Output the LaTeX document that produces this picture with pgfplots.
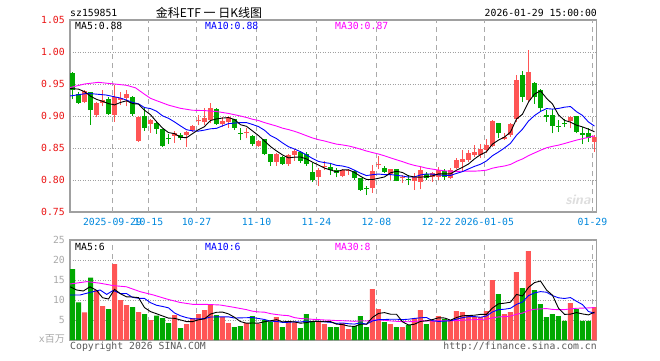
\documentclass[border=0pt]{standalone}
\usepackage{pgfplots}
\pgfplotsset{compat=1.18}
\usepackage{pgfplotstable}
\usepackage{fontspec}
\setmainfont{DejaVu Sans Mono}
\setmonofont{DejaVu Sans Mono}
\newfontfamily\cjk{Noto Sans CJK SC}
\definecolor{cred}{RGB}{255,85,85}
\definecolor{cgreen}{RGB}{0,168,0}
\definecolor{cgrid}{RGB}{170,170,170}
\definecolor{cdot}{RGB}{160,160,160}
\definecolor{cframe}{RGB}{160,160,160}
\definecolor{cdate}{RGB}{0,136,221}
\definecolor{cma10}{RGB}{0,0,255}
\definecolor{cma30}{RGB}{255,0,255}
\definecolor{ctick}{RGB}{235,20,20}
\definecolor{cvtick}{RGB}{170,170,170}
\definecolor{cfoot}{RGB}{90,90,90}
\newcommand\mono{\fontsize{9.8}{10}\selectfont}

\pgfplotstableread{
i o c h l v
2 0.922 0.939 0.941 0.920 6.9
4 0.902 0.921 0.922 0.898 12.5
5 0.920 0.925 0.940 0.915 8.5
7 0.902 0.929 0.948 0.891 19.0
8 0.925 0.928 0.938 0.917 10.0
9 0.928 0.934 0.941 0.915 8.75
11 0.861 0.899 0.900 0.860 7.0
13 0.8875 0.893 0.896 0.874 5.0
17 0.869 0.873 0.877 0.858 6.25
19 0.870 0.8755 0.877 0.852 4.0
20 0.878 0.885 0.886 0.8755 5.5
21 0.8925 0.8945 0.9015 0.886 6.5
22 0.890 0.897 0.912 0.886 7.5
23 0.893 0.913 0.920 0.8885 8.9
25 0.8875 0.892 0.899 0.883 5.75
26 0.891 0.898 0.900 0.881 4.25
29 0.873 0.875 0.881 0.865 4.25
31 0.8535 0.8615 0.8625 0.852 4.1
34 0.8285 0.8405 0.842 0.822 5.75
36 0.825 0.8385 0.8405 0.822 4.6
37 0.839 0.846 0.848 0.830 4.4
41 0.804 0.8155 0.818 0.7905 4.6
42 0.821 0.8225 0.830 0.8155 4.0
45 0.806 0.8155 0.8165 0.804 4.2
46 0.814 0.8155 0.8165 0.808 2.75
50 0.787 0.8145 0.8235 0.780 12.75
51 0.824 0.8255 0.8375 0.8165 7.75
53 0.8095 0.8165 0.817 0.800 4.0
55 0.803 0.8045 0.808 0.795 3.25
57 0.799 0.804 0.8105 0.7845 5.5
58 0.7975 0.8155 0.821 0.7855 7.5
60 0.804 0.8105 0.813 0.7975 4.75
61 0.805 0.8155 0.821 0.800 6.0
63 0.8025 0.8155 0.818 0.801 4.75
64 0.818 0.831 0.834 0.8165 7.25
65 0.8285 0.833 0.847 0.813 7.0
66 0.832 0.8415 0.847 0.8285 6.25
67 0.839 0.844 0.8545 0.8365 5.75
68 0.839 0.8485 0.856 0.834 5.75
69 0.847 0.854 0.8635 0.8415 7.25
70 0.853 0.8925 0.894 0.852 15.0
72 0.864 0.8675 0.873 0.8625 6.5
73 0.870 0.8875 0.8895 0.8675 7.0
74 0.895 0.956 0.964 0.891 17.0
76 0.925 0.968 1.003 0.9225 22.25
83 0.892 0.898 0.900 0.8805 9.25
87 0.860 0.8675 0.8705 0.844 8.25
}\redtab

\pgfplotstableread{
i o c h l v
0 0.967 0.940 0.968 0.926 17.75
1 0.935 0.921 0.938 0.919 9.4
3 0.937 0.909 0.938 0.886 15.6
6 0.927 0.903 0.930 0.902 7.75
10 0.930 0.903 0.931 0.900 8.25
12 0.900 0.881 0.912 0.877 6.5
14 0.8885 0.880 0.891 0.872 6.1
15 0.880 0.853 0.880 0.852 5.5
16 0.865 0.8635 0.872 0.857 4.25
18 0.870 0.865 0.874 0.8625 3.0
24 0.911 0.8875 0.912 0.886 6.25
27 0.895 0.882 0.895 0.878 3.25
28 0.874 0.8725 0.881 0.8625 3.5
30 0.869 0.856 0.870 0.853 6.0
32 0.8635 0.8405 0.864 0.839 5.0
33 0.8405 0.8285 0.841 0.822 4.6
35 0.8355 0.825 0.8375 0.8235 3.25
38 0.844 0.830 0.846 0.827 3.0
39 0.8405 0.825 0.843 0.822 6.5
40 0.813 0.800 0.827 0.7975 4.75
43 0.820 0.8155 0.827 0.808 3.25
44 0.8155 0.8105 0.818 0.804 3.25
47 0.8145 0.8025 0.8155 0.800 3.5
48 0.8025 0.7845 0.803 0.783 6.0
49 0.788 0.7865 0.7905 0.7765 3.25
52 0.818 0.813 0.822 0.8105 4.5
54 0.8165 0.799 0.817 0.798 3.25
56 0.801 0.7995 0.808 0.792 3.75
59 0.8095 0.8025 0.813 0.800 4.0
62 0.8145 0.804 0.8165 0.800 5.3
71 0.8885 0.873 0.8895 0.865 11.5
75 0.964 0.930 0.971 0.9215 13.0
77 0.952 0.930 0.9535 0.919 12.5
78 0.9405 0.912 0.9415 0.908 9.0
79 0.901 0.899 0.9095 0.891 5.75
80 0.9015 0.8845 0.9105 0.873 6.5
81 0.8845 0.883 0.894 0.8755 6.0
82 0.8895 0.8875 0.895 0.8825 4.8
84 0.900 0.8755 0.900 0.873 7.75
85 0.873 0.871 0.8825 0.856 4.8
86 0.873 0.865 0.881 0.860 4.8
}\greentab

\begin{document}
\begin{tikzpicture}
\fill[white] (0pt,0pt) rectangle (660pt,360pt);

% ---------------- price panel ----------------
\begin{axis}[at={(70pt,148pt)}, anchor=south west, scale only axis,
  width=526.7pt, height=192pt,
  xmin=-0.417, xmax=87.37, ymin=0.75, ymax=1.05,
  axis line style={draw=cframe, line width=1.2pt},
  major tick length=0pt,
  xtick={6.667,12.667,20.667,30.667,40.667,50.667,60.667,68.667,86.667},
  xticklabels={2025-09-29,10-15,10-27,11-10,11-24,12-08,12-22,2026-01-05,01-29},
  xticklabel style={font=\mono, text=cdate, inner sep=0pt, anchor=north, yshift=-6pt},
  ytick={0.75,0.80,0.85,0.90,0.95,1.00,1.05},
  yticklabels={0.75,0.80,0.85,0.90,0.95,1.00,1.05},
  yticklabel style={font=\mono, text=ctick, inner sep=0pt, anchor=east, xshift=-5pt},
  clip=true]
\pgfplotsinvokeforeach{6.667,12.667,20.667,30.667,40.667,50.667,60.667,68.667,86.667}{
  \draw[cgrid, line width=1pt, dash pattern=on 5pt off 4pt] (axis cs:#1,0.75) -- (axis cs:#1,1.05);}
\pgfplotsinvokeforeach{0.80,0.85,0.90,0.95,1.00}{
  \draw[cdot, line width=0.9pt, dash pattern=on 1pt off 1.5pt] (axis cs:-0.417,#1) -- (axis cs:87.37,#1);}

\addplot[draw=none, mark=none, error bars/.cd, y dir=plus, y explicit, error mark=none,
  error bar style={draw=cred, solid, line width=1pt}]
  table[x=i, y=l, y error expr=\thisrow{h}-\thisrow{l}] {\redtab};
\addplot[draw=none, mark=none, error bars/.cd, y dir=plus, y explicit, error mark=none,
  error bar style={draw=cred, solid, line width=5pt}]
  table[x=i, y=o, y error expr={max(\thisrow{c}-\thisrow{o},0.0016)}] {\redtab};
\addplot[draw=none, mark=none, error bars/.cd, y dir=plus, y explicit, error mark=none,
  error bar style={draw=cgreen, solid, line width=1pt}]
  table[x=i, y=l, y error expr=\thisrow{h}-\thisrow{l}] {\greentab};
\addplot[draw=none, mark=none, error bars/.cd, y dir=plus, y explicit, error mark=none,
  error bar style={draw=cgreen, solid, line width=5pt}]
  table[x=i, y=c, y error expr={max(\thisrow{o}-\thisrow{c},0.0016)}] {\greentab};

% MA30
\addplot[cma30, line width=0.9pt, mark=none] coordinates {
(-0.4,0.9445)(2,0.950)(4.3,0.9526)(7,0.950)(9,0.948)(10.5,0.944)(12,0.934)(13,0.9276)(14,0.924)(16,0.917)(18,0.912)(20,0.909)(22,0.9085)(24,0.907)(26,0.904)(28,0.900)(29,0.8977)(30,0.8949)(31,0.893)(32,0.8897)(33,0.887)(34,0.8843)(35,0.881)(36,0.8788)(37,0.8761)(38,0.8728)(39,0.8692)(40,0.8657)(41,0.863)(42,0.861)(43,0.8584)(44,0.8561)(45,0.8548)(46,0.8532)(47,0.8509)(48,0.8482)(49,0.8453)(50,0.8429)(51,0.8406)(52,0.8378)(53,0.8346)(54,0.8316)(55,0.8287)(56,0.8254)(57,0.8228)(58,0.8209)(59,0.8185)(60,0.817)(61,0.8155)(62,0.8143)(63,0.8138)(64,0.8135)(65,0.8137)(66,0.8138)(67,0.8138)(68,0.8144)(69,0.8154)(70,0.8185)(71,0.8204)(72,0.8219)(73,0.8243)(74,0.8291)(75,0.8329)(76,0.838)(77,0.8423)(78,0.8465)(79,0.8503)(80,0.8526)(81,0.8545)(82,0.857)(83,0.8597)(84,0.8623)(85,0.8645)(86,0.8667)(87,0.8688)};
% MA10
\addplot[cma10, line width=0.9pt, mark=none] coordinates {
(-0.4,0.9313)(2.5,0.9354)(5.6,0.9328)(8,0.928)(9,0.9249)(10,0.9212)(11,0.919)(12,0.9132)(13,0.9116)(14,0.9075)(15,0.9003)(16,0.8964)(17,0.8908)(18,0.8845)(19,0.8786)(20,0.8768)(21,0.8764)(22,0.878)(23,0.88)(24,0.8807)(25,0.8846)(26,0.8881)(27,0.889)(28,0.8897)(29,0.8897)(30,0.8868)(31,0.8835)(32,0.8778)(33,0.8694)(34,0.8647)(35,0.858)(36,0.852)(37,0.8484)(38,0.8442)(39,0.8392)(40,0.8336)(41,0.829)(42,0.8272)(43,0.8259)(44,0.8229)(45,0.8219)(46,0.8196)(47,0.8153)(48,0.8107)(49,0.8069)(50,0.8083)(51,0.8093)(52,0.8084)(53,0.8085)(54,0.8073)(55,0.8062)(56,0.8046)(57,0.8048)(58,0.8079)(59,0.8095)(60,0.8091)(61,0.8081)(62,0.8072)(63,0.8071)(64,0.8103)(65,0.8131)(66,0.8173)(67,0.8213)(68,0.8246)(69,0.8298)(70,0.838)(71,0.8437)(72,0.8501)(73,0.8573)(74,0.8698)(75,0.8795)(76,0.8921)(77,0.9007)(78,0.9071)(79,0.9116)(80,0.9108)(81,0.9118)(82,0.9138)(83,0.9148)(84,0.9068)(85,0.9009)(86,0.8906)(87,0.8843)};
% MA5
\addplot[black, line width=0.9pt, mark=none] coordinates {
(-0.4,0.943)(1,0.942)(2,0.938)(3,0.931)(4,0.926)(5,0.923)(6,0.9194)(7,0.9174)(8,0.9212)(9,0.9238)(10,0.9194)(11,0.9186)(12,0.909)(13,0.902)(14,0.8912)(15,0.8812)(16,0.8741)(17,0.8725)(18,0.8669)(19,0.866)(20,0.8724)(21,0.8786)(22,0.8834)(23,0.893)(24,0.8954)(25,0.8968)(26,0.8975)(27,0.8945)(28,0.8864)(29,0.8839)(30,0.8767)(31,0.8694)(32,0.8611)(33,0.8523)(34,0.8454)(35,0.8392)(36,0.8346)(37,0.8357)(38,0.836)(39,0.8329)(40,0.8279)(41,0.8233)(42,0.8186)(43,0.8157)(44,0.8128)(45,0.8159)(46,0.8159)(47,0.8119)(48,0.8057)(49,0.8009)(50,0.8007)(51,0.8027)(52,0.8048)(53,0.8112)(54,0.8137)(55,0.8117)(56,0.8065)(57,0.8047)(58,0.8045)(59,0.8052)(60,0.8064)(61,0.8096)(62,0.8096)(63,0.8096)(64,0.8153)(65,0.8198)(66,0.825)(67,0.833)(68,0.8396)(69,0.8442)(70,0.8561)(71,0.8624)(72,0.8671)(73,0.8749)(74,0.8953)(75,0.9028)(76,0.9218)(77,0.9343)(78,0.9392)(79,0.9278)(80,0.9187)(81,0.9017)(82,0.8932)(83,0.8904)(84,0.8857)(85,0.883)(86,0.8794)(87,0.8754)};
\end{axis}

% ---------------- volume panel ----------------
\begin{axis}[at={(70pt,20pt)}, anchor=south west, scale only axis,
  width=526.7pt, height=100pt,
  xmin=-0.417, xmax=87.37, ymin=0, ymax=25,
  axis line style={draw=cframe, line width=1.2pt},
  major tick length=0pt,
  xtick=\empty,
  ytick={5,10,15,20,25},
  yticklabels={5,10,15,20,25},
  yticklabel style={font=\mono, text=cvtick, inner sep=0pt, anchor=east, xshift=-5pt},
  clip=true]
\pgfplotsinvokeforeach{6.667,12.667,20.667,30.667,40.667,50.667,60.667,68.667,86.667}{
  \draw[cgrid, line width=1pt, dash pattern=on 5pt off 4pt] (axis cs:#1,0) -- (axis cs:#1,25);}
\pgfplotsinvokeforeach{5,10,15,20}{
  \draw[cdot, line width=0.9pt, dash pattern=on 1pt off 1.5pt] (axis cs:-0.417,#1) -- (axis cs:87.37,#1);}
\addplot[ybar, bar width=5pt, bar shift=0pt, fill=cred, draw=none] table[x=i, y=v] {\redtab};
\addplot[ybar, bar width=5pt, bar shift=0pt, fill=cgreen, draw=none] table[x=i, y=v] {\greentab};
% MA30
\addplot[cma30, line width=0.9pt, mark=none] coordinates {
(-0.4,14.0)(2.4,14.6)(4.6,14.2)(6.8,13.6)(9,13.3)(11.25,12.1)(13.5,11.25)(15.7,10.25)(17.9,9.4)(20.1,8.9)(22.4,8.9)(24.6,8.75)(26.8,8.2)(29,7.59)(30,7.2)(31,7.02)(32,6.96)(33,6.59)(34,6.37)(35,6.19)(36,6.09)(37,5.6)(38,5.37)(39,5.29)(40,5.18)(41,5.1)(42,5.01)(43,4.95)(44,4.86)(45,4.82)(46,4.76)(47,4.67)(48,4.77)(49,4.75)(50,4.99)(51,5.03)(52,4.93)(53,4.77)(54,4.67)(55,4.59)(56,4.57)(57,4.64)(58,4.78)(59,4.77)(60,4.73)(61,4.79)(62,4.8)(63,4.81)(64,4.86)(65,4.98)(66,5.03)(67,5.08)(68,5.17)(69,5.2)(70,5.54)(71,5.77)(72,5.85)(73,5.98)(74,6.44)(75,6.73)(76,7.38)(77,7.68)(78,7.78)(79,7.86)(80,7.65)(81,7.59)(82,7.6)(83,7.78)(84,7.93)(85,7.98)(86,8.02)(87,8.11)};
% MA10
\addplot[cma10, line width=0.9pt, mark=none] coordinates {
(-0.4,11.25)(1.25,11.25)(2.9,11.9)(4.6,12.5)(5.7,11.4)(6.8,12.4)(8,11.6)(9,11.62)(10,10.67)(11,10.43)(12,10.39)(13,9.33)(14,8.69)(15,8.39)(16,8.04)(17,6.76)(18,6.06)(19,5.59)(20,5.31)(21,5.26)(22,5.36)(23,5.75)(24,5.77)(25,5.79)(26,5.79)(27,5.49)(28,5.54)(29,5.57)(30,5.62)(31,5.38)(32,5.13)(33,4.7)(34,4.65)(35,4.4)(36,4.43)(37,4.55)(38,4.5)(39,4.72)(40,4.6)(41,4.65)(42,4.55)(43,4.41)(44,4.16)(45,4.26)(46,4.07)(47,3.98)(48,4.28)(49,3.96)(50,4.76)(51,5.07)(52,5.12)(53,5.2)(54,5.2)(55,5.1)(56,5.2)(57,5.4)(58,5.55)(59,5.63)(60,4.83)(61,4.65)(62,4.73)(63,4.81)(64,5.21)(65,5.58)(66,5.83)(67,5.86)(68,5.68)(69,6.01)(70,7.03)(71,7.58)(72,7.7)(73,7.93)(74,8.9)(75,9.5)(76,11.1)(77,11.78)(78,12.1)(79,11.95)(80,11.1)(81,10.55)(82,10.38)(83,10.61)(84,9.68)(85,8.86)(86,7.12)(87,6.69)};
% MA5
\addplot[black, line width=0.9pt, mark=none] coordinates {
(-0.4,13.3)(0.7,12.5)(1.8,12.25)(2.9,13.3)(4,12.43)(5,10.58)(6,10.25)(7,12.67)(8,11.55)(9,10.8)(10,10.75)(11,10.6)(12,8.1)(13,7.1)(14,6.57)(15,6.02)(16,5.47)(17,5.42)(18,5.02)(19,4.6)(20,4.6)(21,5.05)(22,5.3)(23,6.48)(24,6.93)(25,6.98)(26,6.53)(27,5.68)(28,4.6)(29,4.2)(30,4.25)(31,4.22)(32,4.57)(33,4.79)(34,5.09)(35,4.54)(36,4.64)(37,4.52)(38,4.2)(39,4.35)(40,4.65)(41,4.65)(42,4.57)(43,4.62)(44,3.97)(45,3.86)(46,3.49)(47,3.39)(48,3.94)(49,3.94)(50,5.65)(51,6.65)(52,6.85)(53,6.45)(54,6.45)(55,4.55)(56,3.75)(57,3.95)(58,4.65)(59,4.8)(60,5.1)(61,5.55)(62,5.51)(63,4.96)(64,5.61)(65,6.06)(66,6.11)(67,6.2)(68,6.4)(69,6.4)(70,8.0)(71,9.05)(72,9.2)(73,9.45)(74,11.4)(75,11.0)(76,13.15)(77,14.35)(78,14.75)(79,12.5)(80,11.2)(81,7.95)(82,6.41)(83,6.46)(84,6.86)(85,6.52)(86,6.28)(87,6.97)};
\end{axis}

% ---------------- texts ----------------
\node[anchor=base west, inner sep=0pt, font=\mono] at (70pt,343.5pt) {sz159851};
\node[anchor=base, inner sep=0pt, font=\cjk\fontsize{12}{12}\selectfont] at (209pt,343pt) {金科ETF 一 日K线图};
\node[anchor=base east, inner sep=0pt, font=\mono] at (597pt,343.5pt) {2026-01-29 15:00:00};

\node[anchor=base west, inner sep=0pt, font=\mono, text=black] at (75pt,330.7pt) {MA5:0.88};
\node[anchor=base west, inner sep=0pt, font=\mono, text=cma10] at (205pt,330.7pt) {MA10:0.88};
\node[anchor=base west, inner sep=0pt, font=\mono, text=cma30] at (335pt,330.7pt) {MA30:0.87};

\node[anchor=base west, inner sep=0pt, font=\mono, text=black] at (75pt,110pt) {MA5:6};
\node[anchor=base west, inner sep=0pt, font=\mono, text=cma10] at (205pt,110pt) {MA10:6};
\node[anchor=base west, inner sep=0pt, font=\mono, text=cma30] at (335pt,110pt) {MA30:8};

\node[anchor=east, inner sep=0pt, text=cvtick] at (65pt,21pt) {{\mono x}{\cjk\fontsize{10}{10}\selectfont 百万}};

\node[anchor=base west, inner sep=0pt, font=\mono, text=cfoot] at (70pt,11pt) {Copyright 2026 SINA.COM};
\node[anchor=base east, inner sep=0pt, font=\mono, text=cfoot] at (597pt,11pt) {http://finance.sina.com.cn};

\node[anchor=center, inner sep=0pt, text=black!13, font=\sffamily\bfseries\itshape\fontsize{14}{14}\selectfont] at (578pt,160pt) {sina};

\pgfresetboundingbox
\path[use as bounding box] (0pt,0pt) rectangle (660pt,360pt);
\end{tikzpicture}
\end{document}
